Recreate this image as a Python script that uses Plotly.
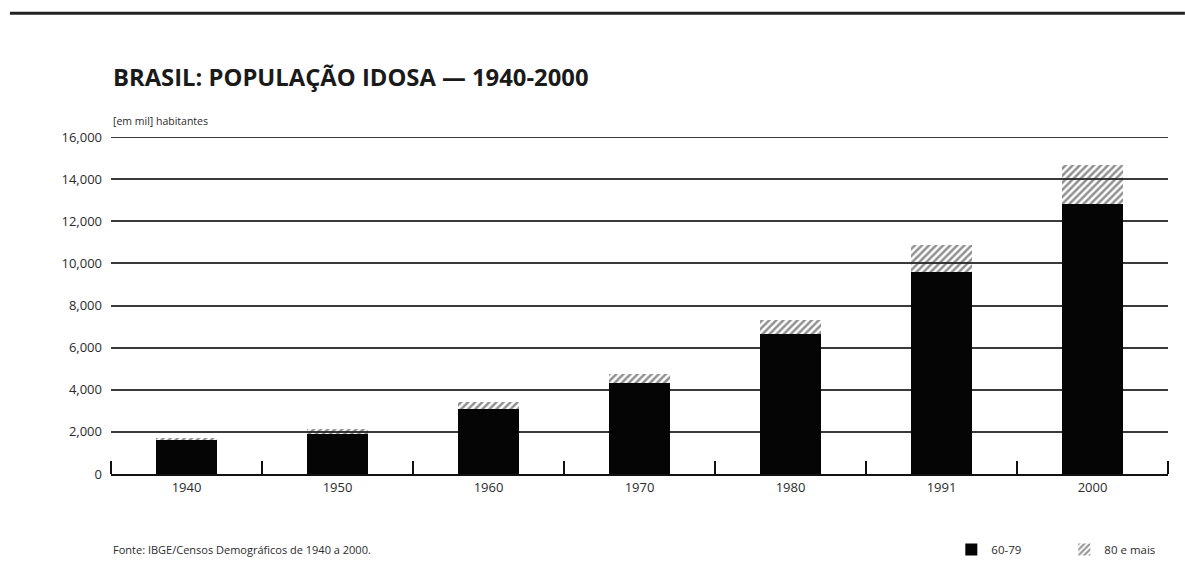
import plotly.graph_objects as go

# Censos: população idosa, em mil habitantes
anos = ["1940", "1950", "1960", "1970", "1980", "1991", "2000"]
idade_60_79 = [1620, 1910, 3100, 4310, 6670, 9590, 12800]
idade_80_mais = [80, 240, 310, 450, 620, 1260, 1860]
y_ticks = [0, 2000, 4000, 6000, 8000, 10000, 12000, 14000, 16000]

FONT = "Open Sans"
INK = "#2b2b2b"
Y_MAX = 16000

fig = go.Figure()
fig.add_trace(go.Bar(
    x=anos, y=idade_60_79, name="60-79",
    marker=dict(color="#050505", line=dict(width=0)),
))
fig.add_trace(go.Bar(
    x=anos, y=idade_80_mais, name="80 e mais",
    marker=dict(
        color="rgba(255,255,255,0)",
        line=dict(width=0),
        pattern=dict(shape="/", fgcolor="#222222", bgcolor="rgba(255,255,255,0)",
                     size=5, solidity=0.5),
    ),
))

fig.update_layout(
    width=1185, height=574,
    margin=dict(l=111, r=17, t=137, b=100, autoexpand=False),
    paper_bgcolor="white", plot_bgcolor="white",
    barmode="stack", bargap=0.6,
    font=dict(family=FONT, color=INK),
    showlegend=True,
    legend=dict(orientation="h", x=0.795, xanchor="left", y=-0.224, yanchor="middle",
                font=dict(size=11.5, color=INK), itemwidth=30,
                entrywidth=68, entrywidthmode="pixels",
                traceorder="normal", bgcolor="rgba(0,0,0,0)"),
)

fig.update_xaxes(
    type="category", showgrid=False,
    showline=True, linecolor="#111111", linewidth=2,
    ticks="inside", tickson="boundaries", ticklen=13, tickwidth=2, tickcolor="#111111",
    tickfont=dict(size=13, color=INK),
)
fig.update_yaxes(
    range=[0, Y_MAX], tickvals=y_ticks, tickformat=",",
    showgrid=True, gridcolor="#3a3a3a", gridwidth=2,
    zeroline=False, showline=False, ticks="",
    ticklabelstandoff=8,
    tickfont=dict(size=13, color=INK),
)

# top gridline at the upper edge of the range
fig.add_shape(type="line", xref="paper", yref="y",
              x0=0, x1=1, y0=Y_MAX, y1=Y_MAX,
              line=dict(color="#3a3a3a", width=2), layer="below")

# tick marks at both outer ends of the category axis
tick_h = 13 / 336.8
for xe in (0, 1):
    fig.add_shape(type="line", xref="paper", yref="paper",
                  x0=xe, x1=xe, y0=0, y1=tick_h,
                  line=dict(color="#111111", width=2))

# top rule
fig.add_shape(type="line", xref="paper", yref="paper",
              x0=-0.0956, x1=1.016, y0=1.367, y1=1.367,
              line=dict(color="#222222", width=3))

fig.add_annotation(text="<b>BRASIL: POPULAÇÃO IDOSA — 1940-2000</b>",
                   xref="paper", yref="paper", x=0.0, y=1.178,
                   xanchor="left", yanchor="middle", showarrow=False,
                   font=dict(size=23.8, color="#1a1a1a"))
fig.add_annotation(text="[em mil] habitantes",
                   xref="paper", yref="paper", x=0.0, y=1.047,
                   xanchor="left", yanchor="middle", showarrow=False,
                   font=dict(size=10.5, color=INK))
fig.add_annotation(text="Fonte: IBGE/Censos Demográficos de 1940 a 2000.",
                   xref="paper", yref="paper", x=0.0, y=-0.224,
                   xanchor="left", yanchor="middle", showarrow=False,
                   font=dict(size=11, color=INK))

fig.write_html("out.html")
